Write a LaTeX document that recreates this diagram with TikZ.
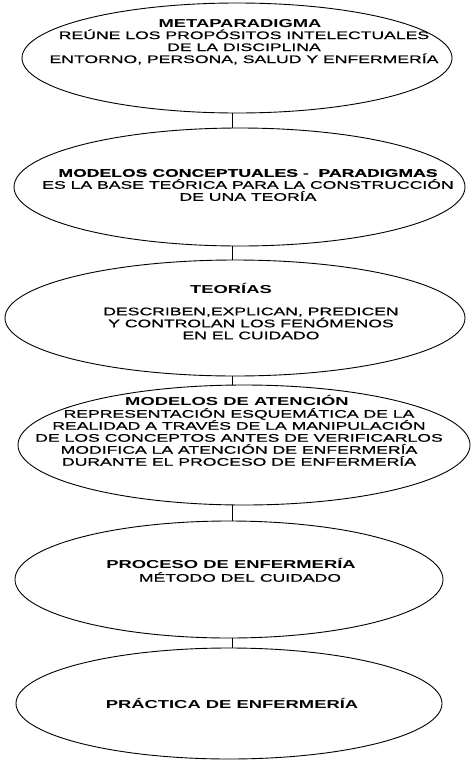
\documentclass[tikz,border=0pt]{standalone}
\usepackage{fontspec}
\setmainfont{Liberation Sans}[FakeStretch=1.6]
\newfontfamily\medio{Liberation Sans}[FakeStretch=1.6,FakeBold=0.7]
\usepackage{tikz}
\usetikzlibrary{shapes.geometric,positioning}

\begin{document}
\begin{tikzpicture}[x=1pt,y=-1pt,
  el/.style={ellipse,draw,line width=0.9pt,inner sep=0pt},
  ti/.style={inner sep=0pt,font=\bfseries\fontsize{11.5}{13}\selectfont},
  tx/.style={inner sep=0pt,align=center,font=\medio\fontsize{11}{12}\selectfont}]
  \useasboundingbox (0,0) rectangle (472,761);
  \coordinate (ax) at (232,0);

  \node[el,minimum width=430pt,minimum height=110pt] (e1) at (237,58) {};
  \node[el,minimum width=451pt,minimum height=118pt] (e2) at (239.5,187) {};
  \node[el,minimum width=460pt,minimum height=116pt] (e3) at (235,318) {};
  \node[el,minimum width=452pt,minimum height=120pt] (e4) at (244,445) {};
  \node[el,minimum width=428pt,minimum height=117pt] (e5) at (229,579.5) {};
  \node[el,minimum width=426pt,minimum height=111pt] (e6) at (229,703.5) {};

  \node[ti] (h1) at (240,24) {METAPARADIGMA};
  \node[tx] (b1) at (244,47) {REÚNE LOS PROPÓSITOS INTELECTUALES\\DE LA DISCIPLINA\\ENTORNO, PERSONA, SALUD Y ENFERMERÍA};
  \node[tx] (b2) at (248,185) {\bfseries MODELOS CONCEPTUALES -\ \ PARADIGMAS\\ES LA BASE TEÓRICA PARA LA CONSTRUCCIÓN\\DE UNA TEORÍA};
  \node[ti] (h3) at (231,288) {TEORÍAS};
  \node[tx] (b3) at (251,323.5) {DESCRIBEN,EXPLICAN, PREDICEN\\Y CONTROLAN LOS FENÓMENOS\\EN EL CUIDADO};
  \node[ti] (h4) at (237,400) {MODELOS DE ATENCIÓN};
  \node[tx] (b4) at (239,437) {REPRESENTACIÓN ESQUEMÁTICA DE LA\\REALIDAD A TRAVÉS DE LA MANIPULACIÓN\\DE LOS CONCEPTOS ANTES DE VERIFICARLOS\\MODIFICA LA ATENCIÓN DE ENFERMERÍA\\DURANTE EL PROCESO DE ENFERMERÍA};
  \node[ti] (h5) at (231,563) {PROCESO DE ENFERMERÍA};
  \node[tx] (b5) at (240,577) {MÉTODO DEL CUIDADO};
  \node[ti] (h6) at (232,703) {PRÁCTICA DE ENFERMERÍA};

  \draw[line width=0.9pt] (e1.south -| ax) -- (e2.north -| ax);
  \draw[line width=0.9pt] (e2.south -| ax) -- (e3.north -| ax);
  \draw[line width=0.9pt] (e3.south -| ax) -- (e4.north -| ax);
  \draw[line width=0.9pt] (e4.south -| ax) -- (e5.north -| ax);
  \draw[line width=0.9pt] (e5.south -| ax) -- (e6.north -| ax);
\end{tikzpicture}
\end{document}
